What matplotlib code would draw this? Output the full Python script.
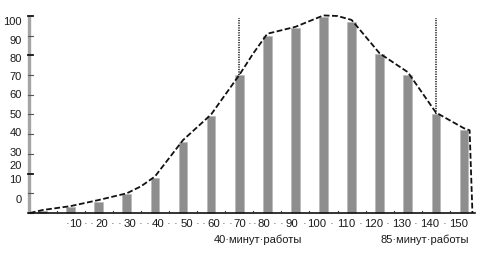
import matplotlib
matplotlib.use("Agg")
import matplotlib.pyplot as plt

# ---- data ----
categories = [0, 10, 20, 30, 40, 50, 60, 70, 80, 90, 100, 110, 120, 130, 140, 150]
bar_values = [1.2, 3, 5.6, 9.6, 18, 36, 49, 70, 90, 94, 99.5, 97, 80.7, 70, 50, 42]
curve_x = [-4.5, 0, 10, 20, 30, 35, 40, 50, 60, 70, 75, 80, 90, 100, 105, 110, 120, 130, 140, 150, 152, 153]
curve_y = [0, 1.5, 3.5, 6.6, 10, 13.5, 18.5, 37, 50, 70, 81, 91, 94.5, 100.3, 100, 98, 81, 71.5, 51, 43, 42, 0]
x_tick_labels = ["10", "20", "30", "40", "50", "60", "70", "80", "90", "100",
                 "110", "120", "130", "140", "150"]
y_tick_values = [0, 10, 20, 30, 40, 50, 60, 70, 80, 90, 100]
y_tick_labels = ["0", "10", "20", "30", "40", "50", "60", "70", "80", "90", "100"]
marker_x = [70, 140]
marker_top = 99
annotations = ["40·минут·работы", "85·минут·работы"]

# ---- layout (positions, not data) ----
PX, PY = 2.81, 1.97          # pixels per data unit
X0, Y0 = 42.5, 213           # pixel of data origin (from left/top)
xlabel_pos = [11.6, 21.2, 31.1, 41.1, 51.4, 61.0, 70.3, 78.8, 88.8, 97.7,
              108, 118, 127.9, 137.9, 147.9]
ylabel_pos = [6.6, 16.8, 23.9, 30.5, 40.6, 49.7, 59.9, 69.0, 78.2, 87.3, 97.0]
annot_pos = [76.7, 136.1]

plt.rcParams['font.family'] = ['Liberation Sans', 'DejaVu Sans']

fig = plt.figure(figsize=(4.9, 2.56), dpi=100)
ax = fig.add_axes([0, 0, 1, 1])
ax.set_xlim(-X0 / PX, (490 - X0) / PX)
ax.set_ylim(-(256 - Y0) / PY, Y0 / PY)
for s in ax.spines.values():
    s.set_visible(False)
ax.set_xticks([]); ax.set_yticks([])

# y axis: thick gray bar with ticks
yaxis_x = (29 - X0) / PX
ax.plot([yaxis_x, yaxis_x], [0, 100], color='#a5a5a5', lw=2.4, solid_capstyle='butt', zorder=2)
for v in y_tick_values:
    major = v in (100, 80, 20)
    ax.plot([yaxis_x - 0.4, yaxis_x + 1.6], [v, v],
            color='#111111' if major else '#555555', lw=1.3 if major else 0.8, zorder=3)
for v, lab in zip(ylabel_pos, y_tick_labels):
    ax.text((21.5 - X0) / PX, v, lab, ha='right', va='center', fontsize=8, color='#1a1a1a')

# x axis baseline with small ticks between bars
ax.plot([-5.1, 153.8], [0, 0], color='#111111', lw=1.2, zorder=4)
for c in categories[:-1]:
    ax.plot([c + 5, c + 5], [0, 1.0], color='#333333', lw=0.8, zorder=4)

# bars
colors = ['#4a4a4a'] + ['#8e8e8e'] * (len(categories) - 1)
ax.bar(categories, bar_values, width=3.1, color=colors, edgecolor='#b5b5b5', linewidth=0.4, zorder=3)

# dashed curve
ax.plot(curve_x, curve_y, color='#111111', lw=1.3, dashes=(3.2, 1.4), zorder=5)

# dotted vertical markers
for mx in marker_x:
    ytop_bar = bar_values[categories.index(mx)]
    ax.plot([mx, mx], [ytop_bar, marker_top], color='#111111', lw=1.1, ls=(0, (0.8, 0.8)), zorder=5)

# x tick labels with visible space marks
ylab = (Y0 - 224) / PY
for xp, lab in zip(xlabel_pos, x_tick_labels):
    ax.text(xp, ylab, lab, ha='center', va='center', fontsize=8.2, color='#1a1a1a')
dots = [xlabel_pos[0] - 2.7]
for i in range(len(xlabel_pos) - 1):
    a, b = xlabel_pos[i], xlabel_pos[i + 1]
    if len(x_tick_labels[i + 1]) < 3:
        dots += [a + (b - a) * 0.38, a + (b - a) * 0.62]
    else:
        dots += [(a + b) / 2]
for d in dots:
    ax.text(d, ylab, "·", ha='center', va='center', fontsize=8.2, color='#444444')

for xp, t in zip(annot_pos, annotations):
    ax.text(xp, (Y0 - 240) / PY, t, ha='center', va='center', fontsize=8, color='#1a1a1a')

fig.savefig("out.png", dpi=100)
